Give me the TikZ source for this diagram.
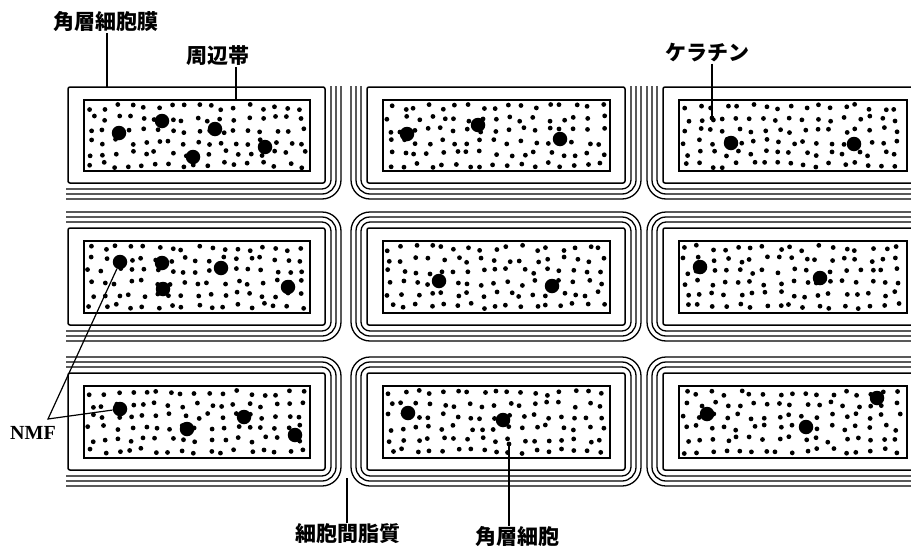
\documentclass[tikz,border=0pt]{standalone}
\usepackage{fontspec}
\setmainfont{Liberation Serif}
\newfontfamily\jpfont{Noto Sans CJK JP}
\tikzset{
	membrane/.style={line width=1.5pt, rounded corners=2pt},
	band/.style={line width=1.5pt},
	lipid/.style={line width=1.3pt},
	nmf/.style={circle, fill, inner sep=0pt, minimum size=14.5pt},
	jtext/.style={font=\jpfont\bfseries\fontsize{21}{23}\selectfont, inner sep=1pt},
	leader/.style={line width=1.2pt}
}

\begin{document}
\begin{tikzpicture}[x=1pt, y=-1pt]
	\useasboundingbox[fill=white] (0,0) rectangle (911,549);
	\pgfmathsetseed{12}
	\begin{scope}
		\clip (66,86) rectangle (911,549);
		\foreach \xl/\xr/\el/\er in {68/325/200/0, 367/625/0/0, 663/922/0/200}
			\foreach \yt/\yb/\et in {87/183/200, 228/325/0, 373/470/0}
			{
				\foreach \d in {6,11,16}
					\draw[lipid, rounded corners=\d*1pt+3pt] (\xl-\d-\el,\yt-\d-\et) rectangle (\xr+\d+\er,\yb+\d);
				\draw[membrane] (\xl,\yt) rectangle (\xr,\yb);
				\draw[band] (\xl+16,\yt+13) rectangle (\xr-15,\yb-12);
				\foreach \i in {0,...,16}
					\foreach \j in {0,...,5}
						\fill (\xl+23+\i*13.2+rand*3.5,\yt+20+\j*11.6+rand*2.8) circle (2.4pt);
			}
	\end{scope}
	\foreach \p [count=\n] in {(119,133),(162,121),(215,129),(193,157),(265,147),
		(407,134),(478,125),(560,139),
		(731,143),(854,144),
		(120,262),(162,263),(221,268),(163,289),(288,287),
		(439,281),(552,286),
		(700,267),(820,278),
		(120,409),(187,429),(244,417),(295,435),
		(408,413),(503,420),
		(707,414),(806,427),(877,398)}
		\node[nmf] (nmf\n) at \p {};

	\node[jtext] (membranetext) at (106,22) {角層細胞膜};
	\node[jtext] (bandtext) at (218,56) {周辺帯};
	\node[jtext] (keratintext) at (707,53) {ケラチン};
	\node[jtext] (lipidtext) at (348,534) {細胞間脂質};
	\node[jtext] (celltext) at (517,537) {角層細胞};
	\node[font=\bfseries\fontsize{20}{22}\selectfont, inner sep=1pt] (nmftext) at (33,433) {NMF};

	\coordinate (membranetip) at (107,87);
	\coordinate (bandtip) at (236,100);
	\coordinate (keratintip) at (712,118);
	\coordinate (lipidtip) at (347,478);
	\coordinate (celltip) at (509,444);
	\coordinate (nmfroot) at (48,419);
	\fill (keratintip) circle (2.4pt);
	\fill (celltip) circle (2.4pt);

	\draw[leader] (membranetip |- membranetext.south) -- (membranetip);
	\draw[leader] (bandtip |- bandtext.south) -- (bandtip);
	\draw[leader] (keratintip |- keratintext.south) -- (keratintip);
	\draw[leader] (lipidtip |- lipidtext.north) -- (lipidtip);
	\draw[leader] (celltip |- celltext.north) -- (celltip);
	\draw[leader] (nmf11) -- (nmfroot) -- (nmf20);
\end{tikzpicture}
\end{document}
